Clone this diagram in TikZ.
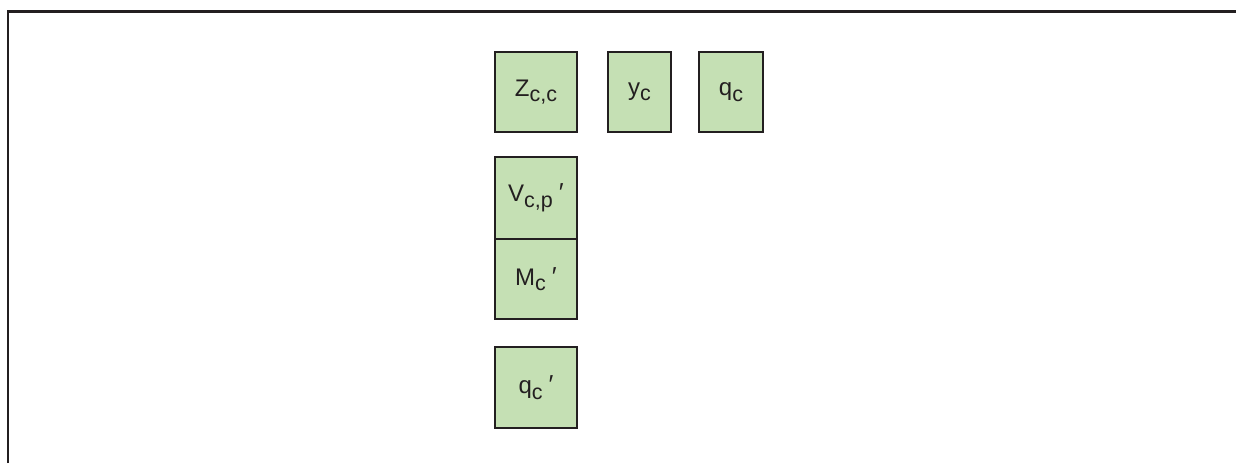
\documentclass[tikz,border=0pt]{standalone}
\usepackage{fontspec}
\setmainfont{Liberation Sans}
\definecolor{boxgreen}{RGB}{197,224,180}
\definecolor{edge}{RGB}{35,31,32}
% lowered subscript and spaced prime for the variable labels
\newcommand{\lowsub}[1]{\raisebox{-5.5pt}{\fontsize{21.5}{21.5}\selectfont #1}}
\newcommand{\pr}{\hspace{6pt}{\fontsize{26}{26}\selectfont ′}}
\begin{document}
\begin{tikzpicture}[x=1pt,y=-1pt,
  varbox/.style={draw=edge, line width=1.5pt, fill=boxgreen, inner sep=0pt,
    font=\fontsize{24}{26}\selectfont, text=edge}]
\useasboundingbox (0,0) rectangle (1236,463);
% open frame: left and top sides only
\coordinate (fb) at (8,463);
\coordinate (fc) at (8,11.5);
\coordinate (fr) at (1236,11.5);
\draw[edge, line width=2.5pt] (fb) -- (fc) -- (fr);
% top row
\node[varbox, minimum width=82pt, minimum height=80pt] (zcc) at (536,92) {Z\lowsub{c,c}};
\node[varbox, minimum width=63pt, minimum height=80pt] (yc) at (639.5,92) {y\lowsub{c}};
\node[varbox, minimum width=64pt, minimum height=80pt] (qc) at (731,92) {q\lowsub{c}};
% stacked pair
\node[varbox, minimum width=82pt, minimum height=82pt] (vcp) at (536,198) {V\lowsub{c,p}\pr};
\node[varbox, minimum width=82pt, minimum height=80pt] (mc) at (536,279) {M\lowsub{c}\pr};
% bottom box
\node[varbox, minimum width=82pt, minimum height=81pt] (qcp) at (536,387.5) {q\lowsub{c}\pr};
\end{tikzpicture}
\end{document}
